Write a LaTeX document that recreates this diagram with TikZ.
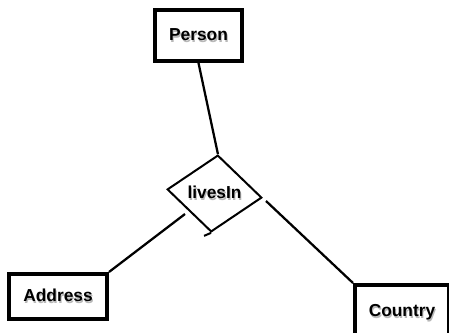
\documentclass[tikz,border=0pt]{standalone}
\usepackage{fontspec}
\setmainfont{Liberation Sans}
\usetikzlibrary{shapes.geometric}

\newcommand{\shtext}[1]{\makebox[0pt][l]{\raisebox{-1.3pt}{\hspace{0.8pt}\textcolor{black!28}{#1}}}#1}

\begin{document}
\begin{tikzpicture}[
		x=0.75pt, y=-0.75pt,
		every node/.style={font=\bfseries\fontsize{13}{15}\selectfont, inner sep=0pt},
		entity/.style={rectangle, draw, line width=3pt},
		relation/.style={diamond, draw, line width=1.5pt, rotate=-5}
	]
  \path[fill=white, use as bounding box] (0,0) rectangle (449,332);

  \node (person) [entity, minimum width=65.25pt, minimum height=38.25pt] at (198.5, 35.5) {\shtext{Person}};
  \node (address) [entity, minimum width=73.5pt, minimum height=33.75pt] at (58, 296.5) {\shtext{Address}};
  \node (country) [entity, minimum width=70.5pt, minimum height=42pt] at (402, 313) {\shtext{Country}};
  \node (livesin) [relation, minimum width=71.25pt, minimum height=57.75pt] at (214.5, 193.5) {\rotatebox{5}{\shtext{livesIn}}};
  \coordinate (a1) at (185, 214);
  \coordinate (c1) at (266, 201);

  \draw [line width=1.7pt] (person.south) -- (livesin.north);
  \draw [line width=1.7pt] (a1) -- (address.north east);
  \draw [line width=1.7pt] (c1) -- (country.north west);
  \draw [line width=1.5pt] (livesin.south) -- ++(-7, 3);
\end{tikzpicture}
\end{document}
